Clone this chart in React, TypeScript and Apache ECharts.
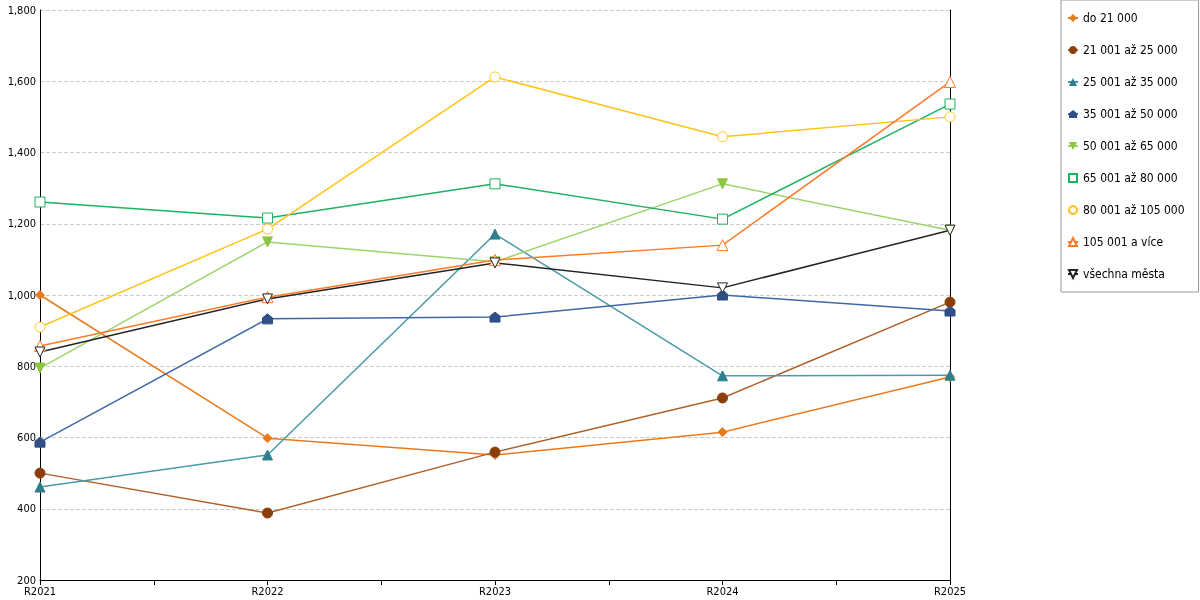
import React, { useEffect, useRef } from "react";
import * as echarts from "echarts";

const categories = ["R2021", "R2022", "R2023", "R2024", "R2025"];
const seriesNames = [
  "do 21 000",
  "21 001 až 25 000",
  "25 001 až 35 000",
  "35 001 až 50 000",
  "50 001 až 65 000",
  "65 001 až 80 000",
  "80 001 až 105 000",
  "105 001 a více",
  "všechna města",
];
const do21 = [1000, 598, 551, 615, 770];
const do25 = [500, 388, 559, 711, 980];
const do35 = [461, 551, 1171, 773, 775];
const do50 = [587, 933, 938, 1000, 955];
const do65 = [795, 1149, 1093, 1312, 1182];
const do80 = [1261, 1216, 1312, 1213, 1536];
const do105 = [910, 1185, 1612, 1444, 1500];
const nad105 = [857, 994, 1098, 1140, 1598];
const vsechna = [840, 989, 1090, 1020, 1182];

const HOUSE = "path://M5,0 L10,4 L10,10 L0,10 L0,4 Z";
const DOWN = "path://M0,0 L10,0 L5,10 Z";

const styles = [
  { line: "#e87a1c", symbol: "diamond", filled: true, size: 9 },
  { line: "#b0612a", mark: "#8b3e0a", symbol: "circle", filled: true, size: 10 },
  { line: "#4a9aa8", mark: "#2e7f8e", symbol: "triangle", filled: true, size: 10 },
  { line: "#3d68a5", mark: "#2f4f86", symbol: HOUSE, filled: true, size: 10 },
  { line: "#9dd46a", mark: "#8cc63f", symbol: DOWN, filled: true, size: 10 },
  { line: "#1bb35f", symbol: "rect", filled: false, size: 10 },
  { line: "#ffc31a", symbol: "circle", filled: false, size: 10 },
  { line: "#ff7a26", symbol: "triangle", filled: false, size: 11 },
  { line: "#222222", symbol: DOWN, filled: false, size: 10 },
];
const values = [do21, do25, do35, do50, do65, do80, do105, nad105, vsechna];

const App = () => {
  const ref = useRef<HTMLDivElement>(null);
  useEffect(() => {
    if (!ref.current) return;
    const chart = echarts.init(ref.current, null, { renderer: "svg" });
    const font = { fontFamily: "DejaVu Sans Condensed, DejaVu Sans", fontSize: 11, color: "#000" };
    chart.setOption({
      animation: false,
      textStyle: { fontFamily: "DejaVu Sans" },
      grid: { left: 40, right: 250, top: 10, bottom: 20 },
      legend: {
        orient: "vertical",
        left: 1061,
        top: 0,
        padding: [12, 14, 12, 6],
        backgroundColor: "#fff",
        borderColor: "#999",
        borderWidth: 1,
        itemWidth: 10,
        itemHeight: 10,
        itemGap: 20,
        textStyle: { ...font, fontSize: 12 },
        data: seriesNames,
      },
      xAxis: {
        type: "value",
        min: 0,
        max: 4,
        interval: 0.5,
        splitLine: { show: false },
        axisLine: { lineStyle: { color: "#000" } },
        axisTick: { show: true, length: 5, lineStyle: { color: "#000" } },
        axisLabel: {
          ...font,
          showMaxLabel: true,
          margin: 6,
          formatter: (v: number) => (Number.isInteger(v) ? categories[v] : ""),
        },
      },
      yAxis: [
        {
          type: "value",
          min: 200,
          max: 1800,
          interval: 200,
          axisLine: { show: true, lineStyle: { color: "#000" } },
          axisTick: { show: false },
          axisLabel: { ...font, margin: 4 },
          splitLine: { lineStyle: { color: "#ccc", type: "dashed" } },
        },
        {
          type: "value",
          min: 200,
          max: 1800,
          interval: 200,
          position: "right",
          axisLine: { show: true, lineStyle: { color: "#000" } },
          axisTick: { show: false },
          axisLabel: { show: false },
          splitLine: { show: false },
        },
      ],
      series: seriesNames.map((name, i) => {
        const s = styles[i];
        const mark = s.mark || s.line;
        return {
          name,
          type: "line",
          data: values[i].map((v, j) => [j, v]),
          symbol: s.symbol,
          symbolSize: s.size,
          lineStyle: { color: s.line, width: 1.5 },
          itemStyle: s.filled
            ? { color: mark, borderColor: mark }
            : { color: "#fff", borderColor: mark, borderWidth: 1 },
        };
      }),
    });
    return () => chart.dispose();
  }, []);
  return (
    <div
      ref={ref}
      style={{ position: "fixed", left: 0, top: 0, width: 1200, height: 600 }}
    />
  );
};

export default App;
